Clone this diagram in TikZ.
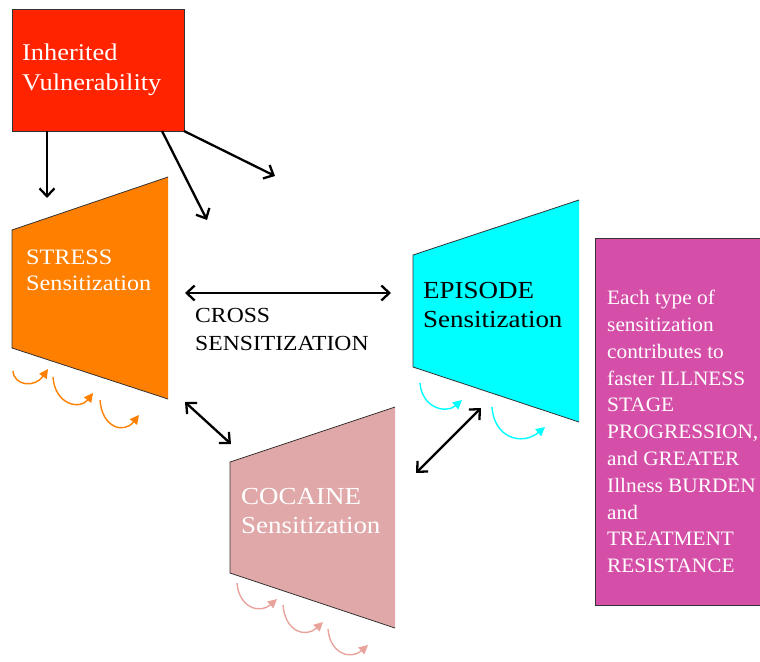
\documentclass[tikz,border=0pt]{standalone}
\usepackage{fontspec}
\setmainfont{Liberation Serif}[FakeStretch=1.1]
\newfontfamily\boxfont{Liberation Serif}[FakeStretch=1.04]
\usetikzlibrary{arrows.meta}
\definecolor{ivred}{HTML}{FF2300}
\definecolor{stressor}{HTML}{FF7F00}
\definecolor{epicyan}{HTML}{00FFFF}
\definecolor{cocpink}{HTML}{E0A8A8}
\definecolor{cocarrow}{HTML}{E8A49C}
\definecolor{outmag}{HTML}{D54FA8}
\definecolor{edge}{HTML}{333333}
\tikzset{
  bigarrow/.style={draw=black, line width=2.3pt, -{Straight Barb[length=8pt,width=15pt,line width=2.3pt]}},
  bothways/.style={draw=black, line width=2.3pt, {Straight Barb[length=8pt,width=15pt,line width=2.3pt]}-{Straight Barb[length=8pt,width=15pt,line width=2.3pt]}},
  curl/.style={draw=#1, line width=1.4pt, -{Triangle[length=9pt,width=9pt]}},
  trapfill/.style={fill=#1, draw=none},
  trapedge/.style={draw=edge, line width=0.8pt},
  label/.style={anchor=north west, inner sep=0pt, align=left, font=\fontsize{22}{29}\selectfont},
}
\begin{document}
\begin{tikzpicture}[x=1pt,y=-1pt]
\useasboundingbox (0,0) rectangle (760,661);

% Inherited vulnerability box
\node[draw=edge, line width=0.6pt, fill=ivred, minimum width=172pt, minimum height=122pt, anchor=north west, inner sep=0pt] (iv) at (12,9) {};
\node[label, text=white, font=\fontsize{24}{30}\selectfont] (ivtext) at (22,43.6) {Inherited\\Vulnerability};

% Stress trapezoid
\coordinate (stl) at (12,230);
\coordinate (str) at (168,177);
\coordinate (sbr) at (168,399);
\coordinate (sbl) at (12,348);
\path[trapfill=stressor] (stl) -- (str) -- (sbr) -- (sbl) -- cycle;
\draw[trapedge] (str) -- (stl) -- (sbl) -- (sbr);
\node[label, text=white, font=\fontsize{22}{26.5}\selectfont] (stress) at (26,249.5) {STRESS\\Sensitization};

% Episode trapezoid
\coordinate (etl) at (413,255);
\coordinate (etr) at (579,200);
\coordinate (ebr) at (579,422);
\coordinate (ebl) at (413,367);
\path[trapfill=epicyan] (etl) -- (etr) -- (ebr) -- (ebl) -- cycle;
\draw[trapedge] (etr) -- (etl) -- (ebl) -- (ebr);
\node[label, text=black, font=\fontsize{24.5}{29}\selectfont] (episode) at (423,281.8) {EPISODE\\Sensitization};

% Cocaine trapezoid
\coordinate (ctl) at (230,462);
\coordinate (ctr) at (395,407);
\coordinate (cbr) at (395,628);
\coordinate (cbl) at (230,573);
\path[trapfill=cocpink] (ctl) -- (ctr) -- (cbr) -- (cbl) -- cycle;
\draw[trapedge] (ctr) -- (ctl) -- (cbl) -- (cbr);
\node[label, text=white, font=\fontsize{24.5}{29}\selectfont] (cocaine) at (241,487.8) {COCAINE\\Sensitization};

% Outcome box
\node[draw=edge, line width=0.6pt, fill=outmag, minimum width=172pt, minimum height=367pt, anchor=north west, inner sep=0pt] (outcome) at (595,238) {};
\node[label, text=white, font=\boxfont\fontsize{20.5}{26.8}\selectfont] (outtext) at (607,290) {Each type of\\sensitization\\contributes to\\faster ILLNESS\\STAGE\\PROGRESSION,\\and GREATER\\Illness BURDEN\\and\\TREATMENT\\RESISTANCE};

% Cross sensitization label
\node[label, text=black, font=\fontsize{21.5}{28}\selectfont] (cross) at (195,307.8) {CROSS\\SENSITIZATION};

% Arrows from inherited vulnerability
\coordinate (a1s) at (47,131);   \coordinate (a1e) at (47,198);
\coordinate (a2s) at (162,131);  \coordinate (a2e) at (207,220);
\coordinate (a3s) at (184,131);  \coordinate (a3e) at (275,176);
\draw[bigarrow] (a1s) -- (a1e);
\draw[bigarrow] (a2s) -- (a2e);
\draw[bigarrow] (a3s) -- (a3e);

% Cross sensitization arrows
\coordinate (x1a) at (185,293);  \coordinate (x1b) at (391,293);
\coordinate (x2a) at (185,402);  \coordinate (x2b) at (231,444);
\coordinate (x3a) at (416,473);  \coordinate (x3b) at (481,408);
\draw[bothways] (x1a) -- (x1b);
\draw[bothways] (x2a) -- (x2b);
\draw[bothways] (x3a) -- (x3b);

% Curled arrows: stress
\draw[curl=stressor] (13,371) .. controls (14,386) and (35,388) .. (48,369);
\draw[curl=stressor] (53,377) .. controls (55,405) and (80,410) .. (93,393);
\draw[curl=stressor] (100,400) .. controls (102,428) and (124,434) .. (139,415);
% Curled arrows: episode
\draw[curl=epicyan] (420,383) .. controls (422,408) and (446,414) .. (462,400);
\draw[curl=epicyan] (492,407) .. controls (494,438) and (522,446) .. (545,427);
% Curled arrows: cocaine
\draw[curl=cocarrow] (237,583) .. controls (239,608) and (260,614) .. (277,599);
\draw[curl=cocarrow] (283,605) .. controls (285,632) and (306,638) .. (323,622);
\draw[curl=cocarrow] (328,629) .. controls (330,654) and (351,660) .. (368,645);
\end{tikzpicture}
\end{document}
